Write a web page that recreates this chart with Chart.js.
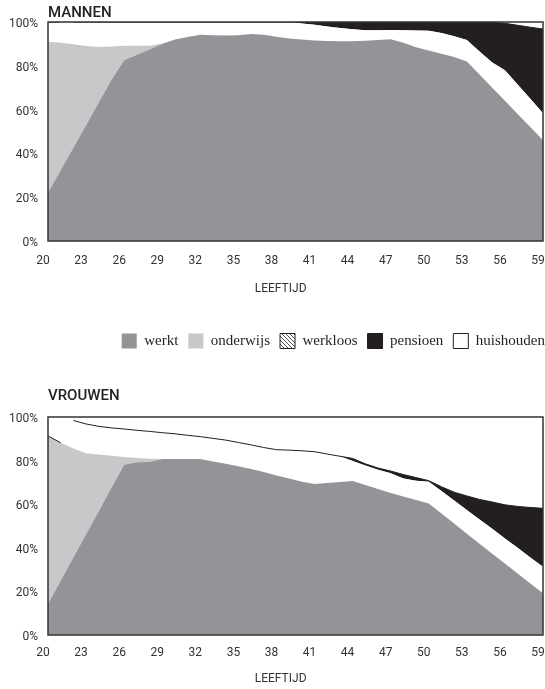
<!DOCTYPE html>
<html>
<head>
<meta charset="utf-8">
<script src="https://cdn.jsdelivr.net/npm/chart.js@4.4.1/dist/chart.umd.min.js"></script>
<style>
  body { margin: 0; background: #fff; overflow: hidden; }
  .box { position: relative; width: 545px; }
</style>
</head>
<body>
<div class="box" style="height:365px"><canvas id="mannen" width="545" height="365"></canvas></div>
<div class="box" style="height:324px"><canvas id="vrouwen" width="545" height="324"></canvas></div>
<script>
const leeftijd = [20, 21, 22, 23, 24, 25, 26, 27, 28, 29,
                  30, 31, 32, 33, 34, 35, 36, 37, 38, 39,
                  40, 41, 42, 43, 44, 45, 46, 47, 48, 49,
                  50, 51, 52, 53, 54, 55, 56, 57, 58, 59];

const categorieen = ['werkt', 'onderwijs', 'werkloos', 'pensioen', 'huishouden'];

// mannen, aandeel in % per leeftijd
const mWerkt = [22, 32.3, 42.6, 52.9, 63.2, 73.5, 82.5, 85, 87.5, 90,
                92, 93.2, 94.2, 94, 93.8, 94, 94.5, 94.2, 93.3, 92.5,
                92, 91.5, 91.3, 91.2, 91.2, 91.4, 91.8, 92.1, 90.5, 88.5,
                87, 85.5, 84, 82, 76, 70, 64, 58, 52, 46];
const mOnderwijs = [69, 58.2, 47.2, 36.1, 25.4, 15.3, 6.7, 4.2, 1.7, 0.2,
                    0, 0, 0, 0, 0, 0, 0, 0, 0, 0,
                    0, 0, 0, 0, 0, 0, 0, 0, 0, 0,
                    0, 0, 0, 0, 0, 0, 0, 0, 0, 0];
const mWerkloos = [9, 9.5, 10.2, 11, 11.4, 11.2, 10.8, 10.8, 10.8, 9.8,
                   8, 6.8, 5.8, 6, 6.2, 6, 5.5, 5.8, 6.7, 7.5,
                   7.3, 7.2, 6.7, 6.1, 5.5, 4.8, 4.4, 4.2, 5.7, 7.6,
                   9, 9.5, 9.5, 9.8, 10.5, 11.5, 14, 13.5, 13, 12.3];
const mPensioen = [0, 0, 0, 0, 0, 0, 0, 0, 0, 0,
                   0, 0, 0, 0, 0, 0, 0, 0, 0, 0,
                   0.7, 1.3, 2, 2.7, 3.3, 3.8, 3.8, 3.7, 3.8, 3.9,
                   4, 5, 6.5, 8.2, 13.5, 18.3, 21.4, 27, 32.6, 38.5];
const mHuishouden = [0, 0, 0, 0, 0, 0, 0, 0, 0, 0,
                     0, 0, 0, 0, 0, 0, 0, 0, 0, 0,
                     0, 0, 0, 0, 0, 0, 0, 0, 0, 0,
                     0, 0, 0, 0, 0, 0.2, 0.6, 1.5, 2.4, 3.2];

// vrouwen
const vWerkt = [14.2, 24.9, 35.5, 46.2, 56.8, 67.5, 78.1, 79.2, 79.4, 80.7,
                80.7, 80.7, 80.7, 79.6, 78.5, 77.4, 76.2, 74.8, 73.2, 71.8,
                70.3, 69.3, 69.7, 70.2, 70.6, 68.8, 67, 65.1, 63.5, 61.9,
                60.3, 55.7, 51.1, 46.5, 41.9, 37.3, 32.8, 28.2, 23.6, 19.1];
const vOnderwijs = [77.1, 63.3, 50.1, 37.2, 26, 14.7, 3.5, 2, 1.5, 0,
                    0, 0, 0, 0, 0, 0, 0, 0, 0, 0,
                    0, 0, 0, 0, 0, 0, 0, 0, 0, 0,
                    0, 0, 0, 0, 0, 0, 0, 0, 0, 0];
const vWerkloos = [0, 0, 12.8, 13.4, 12.9, 12.8, 12.9, 12.7, 12.5, 12.1,
                   11.6, 10.9, 10.3, 10.6, 10.9, 10.9, 11, 11.2, 11.8, 13,
                   14.2, 14.8, 13.3, 11.8, 9.2, 8.9, 8.8, 9.1, 8.3, 8.8,
                   10, 10.3, 10.6, 10.8, 11.1, 11.4, 11.5, 11.8, 12, 12.2];
const vPensioen = [0, 0, 0, 0, 0, 0, 0, 0, 0, 0,
                   0, 0, 0, 0, 0, 0, 0, 0, 0, 0,
                   0, 0, 0, 0, 1.2, 0.8, 0.8, 1, 1.8, 1.5,
                   0.5, 2, 3.8, 6.5, 9.2, 12.3, 15.4, 19, 22.9, 26.8];
const vHuishouden = [8.7, 11.8, 1.6, 3.2, 4.3, 5, 5.5, 6.1, 6.6, 7.2,
                     7.7, 8.4, 9, 9.8, 10.6, 11.7, 12.8, 14, 15, 15.2,
                     15.5, 15.9, 17, 18, 19, 21.5, 23.4, 24.8, 26.4, 27.8,
                     29.2, 32, 34.5, 36.2, 37.8, 39, 40.3, 41, 41.5, 41.9];

const procentTicks = [0, 20, 40, 60, 80, 100];

const ZWART = '#231f20';
const kleuren = ['#939498', '#c7c8ca', '#ffffff', ZWART, '#ffffff'];
const tickFont = { family: 'Roboto', size: 12 };

function arcering() {
  const c = document.createElement('canvas');
  c.width = 4; c.height = 4;
  const g = c.getContext('2d');
  g.strokeStyle = ZWART;
  g.lineWidth = 0.8;
  g.beginPath();
  g.moveTo(0, 0); g.lineTo(4, 4);
  g.moveTo(-1, 3); g.lineTo(1, 5);
  g.moveTo(3, -1); g.lineTo(5, 1);
  g.stroke();
  return g.createPattern(c, 'repeat');
}

// kader rond het plotgebied
const kader = {
  id: 'kader',
  afterDatasetsDraw(chart) {
    const { ctx, chartArea: a } = chart;
    ctx.save();
    ctx.strokeStyle = '#333';
    ctx.lineWidth = 1.5;
    ctx.strokeRect(a.left, a.top, a.right - a.left, a.bottom - a.top);
    ctx.restore();
  }
};

// legenda tot aan de rechterrand van de pagina schuiven
const legendaRechts = {
  id: 'legendaRechts',
  afterLayout(chart) {
    if (chart.options.plugins.legend.display) {
      chart.legend.left += 12;
      chart.legend.right += 12;
    }
  }
};

function maakDatasets(reeksen) {
  return reeksen.map((data, i) => {
    const ds = {
      label: categorieen[i],
      data: data,
      backgroundColor: kleuren[i],
      borderColor: 'transparent',
      borderWidth: 0,
      pointRadius: 0,
      tension: 0,
      fill: i === 0 ? 'origin' : '-1'
    };
    if (categorieen[i] === 'pensioen') {
      ds.borderColor = ZWART;
      ds.borderWidth = 1;
      // de sprong tussen 21 en 22 jaar heeft geen lijn
      ds.segment = { borderColor: ctx => ctx.p0DataIndex === 1 ? 'transparent' : undefined };
    }
    return ds;
  });
}

function maakGrafiek(id, titel, reeksen, lay) {
  const legend = lay.legend ? {
    display: true,
    position: 'bottom',
    align: 'end',
    fullSize: false,
    labels: {
      boxWidth: 15,
      boxHeight: 15,
      padding: 10,
      color: ZWART,
      font: { family: 'Liberation Serif', size: 15 },
      generateLabels(chart) {
        const items = Chart.defaults.plugins.legend.labels.generateLabels(chart);
        items.forEach(it => {
          if (it.text === 'werkloos') {
            it.fillStyle = arcering();
            it.strokeStyle = ZWART;
            it.lineWidth = 1;
          } else if (it.text === 'huishouden' || it.text === 'pensioen') {
            it.strokeStyle = ZWART;
            it.lineWidth = 1;
          } else {
            it.strokeStyle = 'transparent';
            it.lineWidth = 0;
          }
        });
        return items;
      }
    }
  } : { display: false };

  return new Chart(document.getElementById(id), {
    type: 'line',
    data: { labels: leeftijd, datasets: maakDatasets(reeksen) },
    options: {
      responsive: false,
      animation: false,
      layout: { padding: { left: 0, right: 2, top: 0, bottom: lay.bottom } },
      plugins: {
        title: {
          display: true,
          text: titel,
          align: 'start',
          fullSize: false,
          color: '#222',
          font: { family: 'Roboto', size: 15, weight: '500' },
          padding: lay.titlePad
        },
        legend: legend,
        tooltip: { enabled: false },
        filler: { drawTime: 'beforeDatasetsDraw' }
      },
      scales: {
        x: {
          type: 'linear',
          min: 20,
          max: 59,
          grid: { display: false, drawTicks: false },
          border: { display: false },
          ticks: { stepSize: 3, padding: lay.tickPad, labelOffset: -5, maxRotation: 0, color: '#333', font: tickFont },
          title: {
            display: true,
            text: 'LEEFTIJD          ',
            color: '#333',
            font: tickFont,
            padding: lay.xTitlePad
          },
          afterFit(s) { s.paddingLeft = 0; s.paddingRight = 0; }
        },
        y: {
          stacked: true,
          min: 0,
          max: 100,
          grid: { display: false, drawTicks: false },
          border: { display: false },
          afterBuildTicks(s) { s.ticks = procentTicks.map(v => ({ value: v })); },
          ticks: { padding: 10, labelOffset: 2, color: '#333', font: tickFont, callback: v => v + '%' },
          afterFit(s) { s.width = 48; }
        }
      }
    },
    plugins: [kader, legendaRechts]
  });
}

maakGrafiek('mannen', 'MANNEN',
  [mWerkt, mOnderwijs, mWerkloos, mPensioen, mHuishouden],
  { legend: true, bottom: 6.5, titlePad: { top: 4, bottom: 0 }, tickPad: 13, xTitlePad: { top: 0.4, bottom: 27.3 } });

maakGrafiek('vrouwen', 'VROUWEN',
  [vWerkt, vOnderwijs, vWerkloos, vPensioen, vHuishouden],
  { legend: false, bottom: 2.8, titlePad: { top: 22.5, bottom: 11.5 }, tickPad: 11, xTitlePad: { top: 0.4, bottom: 0 } });
</script>
</body>
</html>
